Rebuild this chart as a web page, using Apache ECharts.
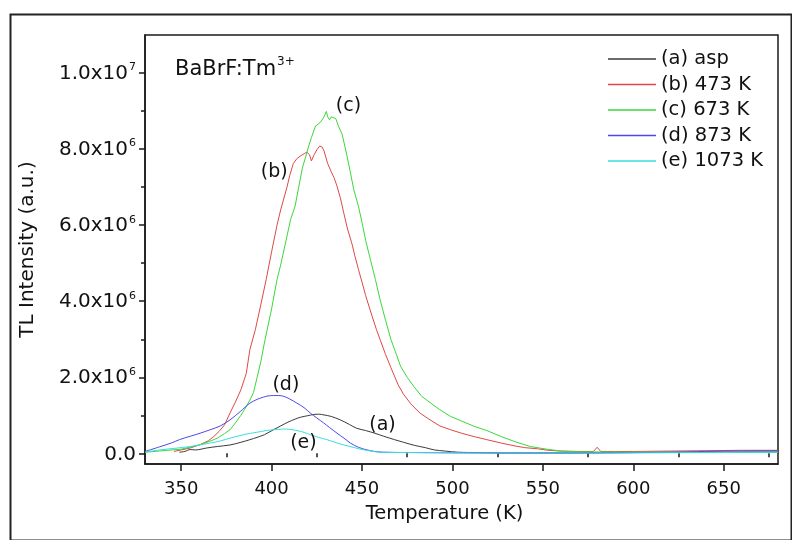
<!DOCTYPE html>
<html>
<head>
<meta charset="utf-8">
<script src="https://cdn.jsdelivr.net/npm/echarts@6/dist/echarts.min.js"></script>
<style>
html,body{margin:0;padding:0;background:#fff;}
#chart{width:792px;height:540px;}
</style>
</head>
<body>
<div id="chart"></div>
<script>
// ---- Data (temperature in K, intensity in units of 1e6 a.u.) ----
const seriesNames = ['(a) asp', '(b) 473 K', '(c) 673 K', '(d) 873 K', '(e) 1073 K'];

const tempA = [349, 352, 355, 358, 364, 370, 377, 383, 388, 392, 396, 401, 405, 409, 413, 416, 420, 423, 426, 429, 433, 438, 443, 447, 452, 457, 462, 468, 473, 479, 485, 490, 496, 503, 515, 530, 560, 600, 640, 680];
const intA  = [0.03, 0.05, 0.10, 0.09, 0.14, 0.18, 0.22, 0.29, 0.36, 0.42, 0.49, 0.62, 0.72, 0.82, 0.90, 0.95, 0.99, 1.02, 1.03, 1.01, 0.97, 0.88, 0.76, 0.66, 0.60, 0.53, 0.45, 0.36, 0.29, 0.21, 0.15, 0.09, 0.06, 0.03, 0.02, 0.01, 0.01, 0.02, 0.03, 0.04];

const tempB = [346, 350, 355, 360, 365, 368, 371, 374, 377, 380, 383, 386, 388, 391, 394, 397, 400, 403, 405, 408.5, 410, 412, 414, 416, 418, 419.5, 421, 422, 423.5, 425, 426.6, 428, 429, 431, 433, 434.5, 436, 438, 440, 442, 444.5, 446, 448, 450, 452, 455, 458, 460, 463, 466, 470, 473, 477, 482, 487, 493, 499, 505, 512, 519, 527, 534, 540, 547, 553, 560, 570, 578, 580, 582, 590, 600, 620, 640, 660, 680];
const intB  = [0.05, 0.09, 0.14, 0.22, 0.33, 0.44, 0.58, 0.75, 1.06, 1.35, 1.67, 2.10, 2.73, 3.25, 3.90, 4.57, 5.30, 6.00, 6.40, 7.00, 7.30, 7.62, 7.75, 7.82, 7.88, 7.92, 7.85, 7.69, 7.85, 7.98, 8.08, 8.05, 7.95, 7.62, 7.40, 7.25, 7.05, 6.72, 6.30, 5.90, 5.50, 5.20, 4.84, 4.50, 4.15, 3.69, 3.25, 2.99, 2.60, 2.25, 1.80, 1.55, 1.30, 1.06, 0.90, 0.72, 0.62, 0.53, 0.44, 0.36, 0.27, 0.20, 0.15, 0.12, 0.08, 0.06, 0.05, 0.05, 0.16, 0.05, 0.05, 0.05, 0.06, 0.07, 0.08, 0.08];

const tempC = [330, 340, 350, 360, 366, 370, 374, 377, 380, 383, 385, 388, 390, 392, 394, 396, 398, 400, 403, 405, 408, 410.5, 413, 415, 417, 419, 420.5, 422, 424.3, 426, 427.5, 429, 430.3, 431, 432, 433, 434, 435.5, 437, 439, 441.7, 443.5, 445.4, 448, 450, 452, 454.6, 457.4, 460, 463, 466, 469, 471.3, 475, 478.6, 483, 488, 493, 499, 505, 512, 519, 527, 535, 543, 552, 560, 570, 600, 640, 680];
const intC  = [0.03, 0.07, 0.11, 0.22, 0.32, 0.40, 0.52, 0.62, 0.80, 1.00, 1.15, 1.40, 1.60, 2.00, 2.40, 2.90, 3.35, 3.80, 4.57, 4.95, 5.60, 6.15, 6.50, 7.00, 7.50, 7.82, 8.08, 8.30, 8.61, 8.66, 8.74, 8.85, 8.99, 8.85, 8.77, 8.85, 8.89, 8.80, 8.60, 8.39, 7.82, 7.40, 6.94, 6.50, 6.07, 5.60, 5.10, 4.57, 4.04, 3.50, 2.99, 2.60, 2.29, 2.00, 1.76, 1.50, 1.32, 1.15, 0.97, 0.85, 0.71, 0.60, 0.44, 0.30, 0.18, 0.11, 0.06, 0.04, 0.03, 0.03, 0.03];

const tempD = [330, 338, 345, 349, 355, 360.5, 366, 371.6, 377, 382.7, 388, 392, 395.6, 398, 401, 404, 406.7, 410, 414, 418, 421.4, 425, 428.8, 432, 436.2, 440, 443.6, 448, 452.8, 457, 462, 480, 520, 560, 600, 630, 650, 680];
const intD  = [0.05, 0.17, 0.28, 0.36, 0.45, 0.53, 0.62, 0.72, 0.88, 1.10, 1.32, 1.42, 1.48, 1.51, 1.52, 1.52, 1.50, 1.43, 1.32, 1.20, 1.06, 0.93, 0.80, 0.68, 0.53, 0.40, 0.27, 0.16, 0.09, 0.05, 0.03, 0.02, 0.01, 0.01, 0.02, 0.04, 0.06, 0.07];

const tempE = [330, 338, 346, 355, 360, 366, 372, 377, 382, 386.4, 390, 393.7, 397, 401, 404, 406.7, 410, 414, 418, 421.4, 426, 430.6, 435, 440, 445, 449, 455, 460, 480, 520, 580, 640, 680];
const intE  = [0.03, 0.09, 0.13, 0.18, 0.22, 0.27, 0.33, 0.40, 0.46, 0.51, 0.54, 0.57, 0.60, 0.62, 0.63, 0.64, 0.63, 0.60, 0.55, 0.49, 0.42, 0.36, 0.29, 0.22, 0.16, 0.11, 0.06, 0.03, 0.02, 0.01, 0.01, 0.02, 0.03];

const xMajorTicks = [350, 400, 450, 500, 550, 600, 650];
const xMinorTicks = [375, 425, 475, 525, 575, 625, 675];
const yMajorTicks = [0, 2e6, 4e6, 6e6, 8e6, 1e7];
const yMinorTicks = [1e6, 3e6, 5e6, 7e6, 9e6];

const curveLabels = ['(a)', '(b)', '(c)', '(d)', '(e)'];
// label anchor points in data units [K, 1e6 a.u.]
const labelAnchors = [[461.3, 0.75], [401.5, 7.39], [442.5, 9.13], [407.9, 1.80], [417.6, 0.28]];

// ---- Build ----
const SCALE = 1e6;
const temps = [tempA, tempB, tempC, tempD, tempE];
const ints = [intA, intB, intC, intD, intE];
const colors = ['#3a3a3a', '#e04848', '#3ad83a', '#4a4ae6', '#3adede'];
const FONT = '"DejaVu Sans", "Liberation Sans", Arial, sans-serif';

function fmtY(v) {
  if (v === 0) return '{b|0.0}';
  const e = Math.floor(Math.log10(v) + 1e-9);
  const m = v / Math.pow(10, e);
  return '{b|' + m.toFixed(1) + 'x10}{s|' + e + '}';
}

const series = seriesNames.map((name, i) => ({
  name: name,
  type: 'line',
  xAxisIndex: 0,
  yAxisIndex: 0,
  symbol: 'none',
  smooth: (i === 1 || i === 2) ? false : 0.3,
  lineStyle: { width: 1, color: colors[i] },
  itemStyle: { color: colors[i] },
  data: temps[i].map((t, j) => [t, ints[i][j] * SCALE]),
  markPoint: {
    symbol: 'circle',
    symbolSize: 1,
    itemStyle: { color: 'rgba(0,0,0,0)' },
    label: {
      show: true, position: 'inside', formatter: curveLabels[i],
      color: '#111', fontSize: 19, fontFamily: FONT
    },
    data: [{ coord: [labelAnchors[i][0], labelAnchors[i][1] * SCALE] }]
  }
}));

const chart = echarts.init(document.getElementById('chart'), null, { renderer: 'canvas' });
chart.setOption({
  animation: false,
  backgroundColor: '#fff',
  textStyle: { fontFamily: FONT },
  grid: {
    left: 145, right: 14, top: 35, bottom: 76,
    show: true, borderColor: '#1a1a1a', borderWidth: 1.5, backgroundColor: 'transparent'
  },
  legend: {
    orient: 'vertical',
    left: 603, top: 43,
    icon: 'rect',
    itemWidth: 48, itemHeight: 1.5, itemGap: 3.5,
    data: seriesNames,
    textStyle: { fontSize: 19.5, color: '#111', fontFamily: FONT, lineHeight: 22 }
  },
  xAxis: [{
    type: 'value', min: 330, max: 680,
    name: 'Temperature (K)', nameLocation: 'middle', nameGap: 40,
    nameTextStyle: { fontSize: 19.5, color: '#111', fontFamily: FONT, padding: [0, 34, 0, 0] },
    axisLine: { show: true, onZero: false, lineStyle: { color: '#1a1a1a', width: 1.5 } },
    axisTick: { show: true, customValues: xMajorTicks, length: 7, lineStyle: { color: '#1a1a1a', width: 1.5 } },
    axisLabel: { customValues: xMajorTicks, fontSize: 18, color: '#111', margin: 16, fontFamily: FONT },
    splitLine: { show: false }
  }, {
    type: 'value', min: 330, max: 680, position: 'bottom',
    axisLine: { show: false },
    axisTick: { show: true, customValues: xMinorTicks, length: 4, lineStyle: { color: '#1a1a1a', width: 1.5 } },
    axisLabel: { show: false },
    splitLine: { show: false }
  }],
  yAxis: [{
    type: 'value', min: -0.28e6, max: 11e6,
    name: 'TL Intensity (a.u.)', nameLocation: 'middle', nameGap: 107,
    nameTextStyle: { fontSize: 20, color: '#111', fontFamily: FONT },
    axisLine: { show: true, onZero: false, lineStyle: { color: '#1a1a1a', width: 1.5 } },
    axisTick: { show: true, customValues: yMajorTicks, length: 6, lineStyle: { color: '#1a1a1a', width: 1.5 } },
    axisLabel: {
      customValues: yMajorTicks, margin: 9, color: '#111',
      formatter: fmtY,
      rich: {
        b: { fontSize: 20, fontFamily: FONT, color: '#111', lineHeight: 22, verticalAlign: 'bottom' },
        s: { fontSize: 11, fontFamily: FONT, color: '#111', lineHeight: 22, verticalAlign: 'top', padding: [0, 0, 9, 1] }
      }
    },
    splitLine: { show: false }
  }, {
    type: 'value', min: -0.28e6, max: 11e6, position: 'left',
    axisLine: { show: false },
    axisTick: { show: true, customValues: yMinorTicks, length: 4, lineStyle: { color: '#1a1a1a', width: 1.5 } },
    axisLabel: { show: false },
    splitLine: { show: false }
  }],
  graphic: [{
    type: 'rect', left: 8, top: 12, z: 100, silent: true,
    shape: { width: 781, height: 526 },
    style: { fill: 'none', stroke: '#222', lineWidth: 2 }
  }, {
    type: 'text', left: 175, top: 56, z: 100,
    style: {
      text: '{m|BaBrF:Tm}{s|3+}',
      rich: {
        m: { fontSize: 21, fontFamily: FONT, fill: '#111', lineHeight: 24, verticalAlign: 'bottom' },
        s: { fontSize: 12, fontFamily: FONT, fill: '#111', lineHeight: 24, verticalAlign: 'top', padding: [0, 0, 10, 1] }
      }
    }
  }],
  series: series
});
</script>
</body>
</html>
